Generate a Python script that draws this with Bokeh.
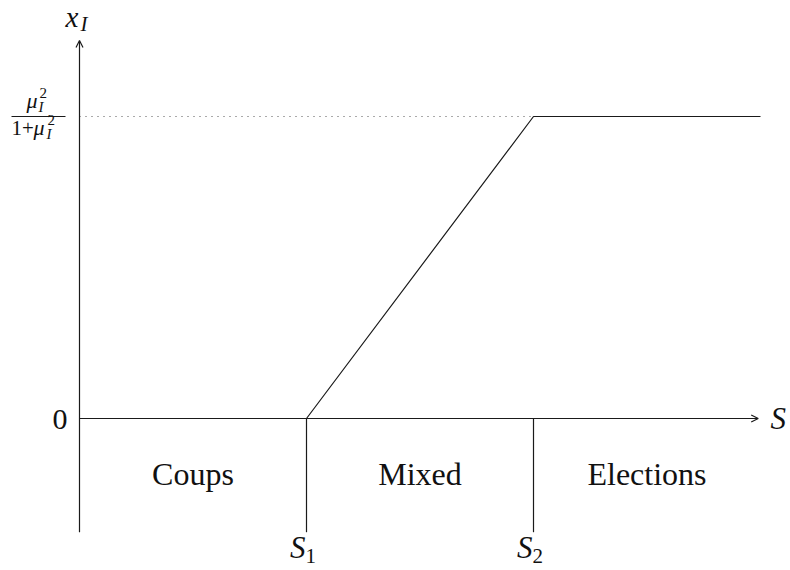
from bokeh.plotting import figure
from bokeh.models import Range1d, Label, Arrow, OpenHead
from bokeh.embed import file_html
from bokeh.resources import INLINE

# ---- data ----
S_points = [0.0, 1.0, 2.0, 3.0]          # S values of the kinked curve
xI_points = [0.0, 0.0, 1.0, 1.0]         # x_I values (1 = mu^2/(1+mu^2))
thresholds = [1.0, 2.0]                  # S1, S2
threshold_labels = ["1", "2"]
regions = ["Coups", "Mixed", "Elections"]
region_bounds = [0.0, 1.0, 2.0, 3.0]
y_top_value = 1.0
y_axis_bottom = -0.3765
y_axis_top = 1.2517
x_axis_end = 2.99

# ---- layout (pixel geometry) ----
W, H = 790, 570
MARGIN = 0
XS, YS = 227.0, 302.0          # pixels per data unit
ORIG_X, ORIG_Y = 79.0, 418.0   # image pixel of the origin
x0 = -(ORIG_X - MARGIN) / XS
y1 = (ORIG_Y - MARGIN) / YS
BASE_K = 0.38                  # baseline correction (fraction of font size)

p = figure(width=W, height=H, output_backend="svg", toolbar_location=None,
           x_range=Range1d(x0, x0 + W / XS), y_range=Range1d(y1 - H / YS, y1),
           min_border=0)
p.axis.visible = False
p.grid.visible = False
p.outline_line_color = None
p.background_fill_color = "white"
p.border_fill_color = "white"

def px(ix, iy):
    return (ix - ORIG_X) / XS, (ORIG_Y - iy) / YS

LC = "#1a1a1a"
LW = 1.2
SERIF = "Liberation Serif"

# axes with arrows
p.add_layout(Arrow(end=OpenHead(size=7, line_color=LC, line_width=LW),
                   x_start=0, y_start=y_axis_bottom, x_end=0, y_end=y_axis_top,
                   line_color=LC, line_width=LW))
p.add_layout(Arrow(end=OpenHead(size=7, line_color=LC, line_width=LW),
                   x_start=0, y_start=0, x_end=x_axis_end, y_end=0,
                   line_color=LC, line_width=LW))

# threshold verticals
p.segment(x0=thresholds, y0=[0] * len(thresholds), x1=thresholds,
          y1=[y_axis_bottom] * len(thresholds), line_color=LC, line_width=LW)

# dotted level line
p.line([0, thresholds[1]], [y_top_value, y_top_value], line_color="#555555",
       line_width=1, line_dash="1 5")

# the curve
p.line(S_points, xI_points, line_color=LC, line_width=LW)

def lbl(x, iy, text, size, italic=False, align="left"):
    """x in data units, iy = intended baseline in image pixels."""
    y = px(0, iy - BASE_K * size)[1]
    p.add_layout(Label(x=x, y=y, text=text, text_font=SERIF,
                       text_font_size=f"{size}px",
                       text_font_style="italic" if italic else "normal",
                       text_align=align, text_baseline="alphabetic",
                       text_color="#111111"))

def lblp(ix, iy, text, size, italic=False, align="left"):
    lbl(px(ix, 0)[0], iy, text, size, italic, align)

# region labels
for i, r in enumerate(regions):
    xm = (region_bounds[i] + region_bounds[i + 1]) / 2
    lbl(xm, 486, r, 32, align="center")

# S1, S2 labels
for t, sub in zip(thresholds, threshold_labels):
    lbl(t - 1 / XS, 559, "S", 31, italic=True, align="right")
    lbl(t - 1 / XS, 563, sub, 21)

# S label at x-axis end
lblp(770, 430, "S", 31, italic=True)

# 0 label
lblp(67, 430, "0", 30, align="right")

# x_I label
lblp(65, 28, "x", 29, italic=True)
lblp(80, 31, "I", 21, italic=True)

# fraction mu^2/(1+mu^2)
bx0, by = px(11, 116)
bx1, _ = px(65, 116)
p.segment(x0=[bx0], y0=[by], x1=[bx1], y1=[by], line_color=LC, line_width=1)
lblp(26, 108, "μ", 22, italic=True)
lblp(39, 98, "2", 15)
lblp(38, 112, "I", 15, italic=True)
lblp(11, 135, "1+", 21)
lblp(33, 135, "μ", 22, italic=True)
lblp(47, 125, "2", 15)
lblp(46, 139, "I", 15, italic=True)

open("out.html", "w").write(file_html(p, INLINE))
